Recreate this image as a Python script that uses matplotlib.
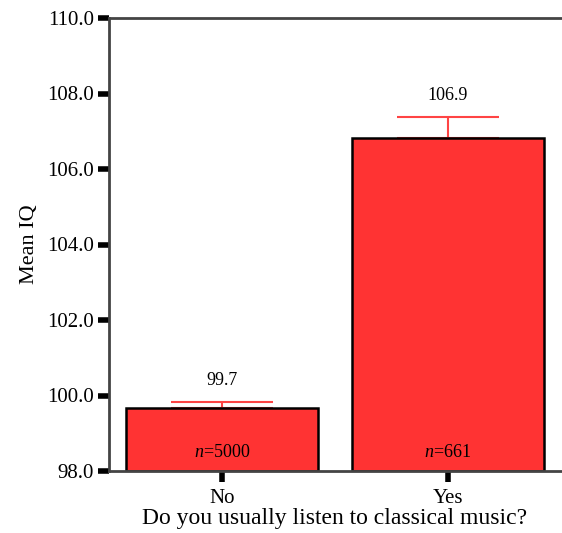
import matplotlib
matplotlib.use("Agg")
import matplotlib.pyplot as plt

plt.rcParams['font.family'] = ['Liberation Serif', 'DejaVu Serif']
plt.rcParams['mathtext.fontset'] = 'custom'
plt.rcParams['mathtext.it'] = 'Liberation Serif:italic'
plt.rcParams['mathtext.rm'] = 'Liberation Serif'

categories = ['No', 'Yes']
means = [99.67, 106.83]
errors = [0.17, 0.55]
labels = ['99.7', '106.9']
counts = [5000, 661]

fig = plt.figure(figsize=(5.62, 5.33), dpi=100)
ax = fig.add_axes([109 / 562, 62 / 533, 452 / 562, 453 / 533])

x = range(len(categories))
ax.bar(x, [m - 98 for m in means], bottom=98, width=0.85,
       color='#ff3333', edgecolor='black', linewidth=1.8, zorder=2)
ax.errorbar(x, means, yerr=[[0, 0], errors], fmt='none',
            ecolor='#ff4444', elinewidth=1.5, capsize=36.5, capthick=1.5, zorder=1)

for i in x:
    ax.annotate(labels[i], (i, means[i] + errors[i]), xytext=(0, 9),
                textcoords='offset points', ha='center', va='bottom', fontsize=13)
    ax.text(i, 98.5, f'$\\mathit{{n}}$={counts[i]}', ha='center', va='center',
            fontsize=13)

ax.set_xlim(-0.5, 1.5)
ax.set_ylim(98, 110)
ax.set_yticks(range(98, 111, 2))
ax.set_yticklabels([f'{v:.1f}' for v in range(98, 111, 2)])
ax.set_xticks(list(x))
ax.set_xticklabels(categories)

for s in ['left', 'top', 'bottom']:
    ax.spines[s].set_color('#444444')
    ax.spines[s].set_linewidth(2)
ax.spines['right'].set_visible(False)
ax.tick_params(direction='out', length=8, width=4, color='black',
               labelsize=15, pad=3)
ax.tick_params(axis='x', pad=5)

ax.set_ylabel('Mean IQ', fontsize=16, labelpad=6)
ax.set_xlabel('Do you usually listen to classical music?', fontsize=17, labelpad=0)

fig.savefig('out.png', dpi=100)
